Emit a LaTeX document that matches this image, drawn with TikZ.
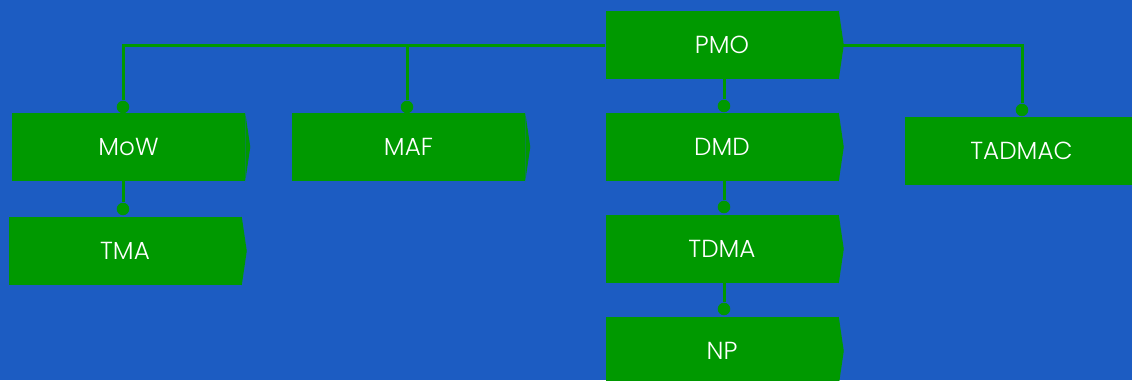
\documentclass[tikz,border=0pt]{standalone}
\usepackage{fontspec}
\setmainfont{Poppins}[UprightFont=* Light]
\usepackage{tikz}
\usetikzlibrary{positioning}
\definecolor{bgblue}{HTML}{1C5CC2}
\definecolor{grn}{HTML}{009900}
\tikzset{gbox/.style={rectangle, fill=grn, text=white, inner sep=0pt,
    minimum width=174.75pt, minimum height=51pt, font=\fontsize{18.5}{22}\selectfont}}
\tikzset{gdot/.style={inner sep=0pt, minimum size=9.4pt, circle, fill=grn}}
\tikzset{gline/.style={draw=grn, line width=2.25pt}}

\begin{document}
\begin{tikzpicture}[x=0.75pt, y=-0.75pt]
    \clip (0, 0) rectangle (1132, 380);
    \fill[bgblue] (0, 0) rectangle (1132, 380);
    % boxes
    \node[gbox] (PMO) at (722, 45) {PMO};
    \node[gbox] (MoW) at (128.5, 147) {MoW};
    \node[gbox] (TMA) at (125, 251) {TMA};
    \node[gbox] (MAF) at (408.5, 147) {MAF};
    \node[gbox] (DMD) at (722, 147) {DMD};
    \node[gbox] (TDMA) at (722, 249) {TDMA};
    \node[gbox] (NP) at (722, 351) {NP};
    \node[gbox] (TADMAC) at (1021.5, 151) {TADMAC};
    \foreach \n in {PMO, MoW, TMA, MAF, DMD, TDMA, NP, TADMAC}
        \fill[grn] (\n.north east) -- ([xshift=3.75pt]\n.east) -- (\n.south east) -- cycle;
    % dots
    \node[gdot] (dMoW) at (123, 107) {};
    \node[gdot] (dTMA) at (123, 209) {};
    \node[gdot] (dMAF) at (407, 107) {};
    \node[gdot] (dDMD) at (724, 106) {};
    \node[gdot] (dTDMA) at (724, 207) {};
    \node[gdot] (dNP) at (724, 309) {};
    \node[gdot] (dTADMAC) at (1022, 110) {};
    \coordinate (PMOtip) at (843, 45);
    \draw[gline]
    (PMO.west) -| (dMoW)
    (dMAF) -- (dMAF |- PMO.west)
    (PMOtip) -| (dTADMAC)
    (dDMD |- PMO.south) -- (dDMD)
    (dTDMA |- DMD.south) -- (dTDMA)
    (dNP |- TDMA.south) -- (dNP)
    (dTMA |- MoW.south) -- (dTMA);
\end{tikzpicture}
\end{document}
